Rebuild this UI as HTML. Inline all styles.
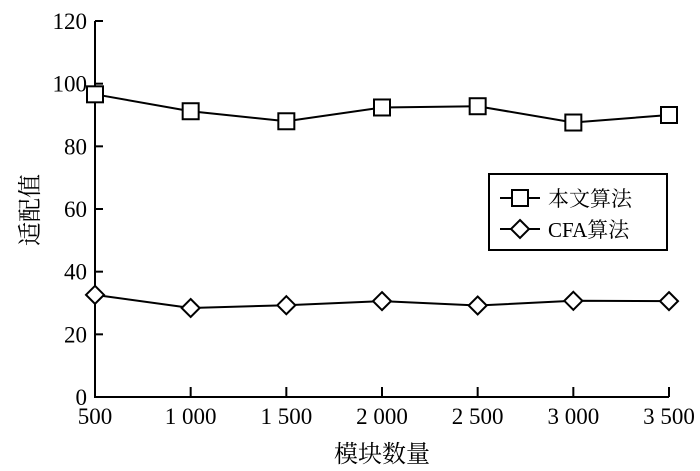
<!DOCTYPE html>
<html><head><meta charset="utf-8"><style>
body{margin:0;background:#fff}
svg{display:block}
text{font-family:"Liberation Serif","Noto Serif CJK SC","Noto Sans CJK SC",serif;fill:#000}
</style></head><body>
<svg id="chart" width="700" height="471" viewBox="0 0 700 471" xmlns="http://www.w3.org/2000/svg">
<g id="axes"></g><g id="series"></g>
<g>
<rect x="489" y="174" width="178" height="76" fill="#fff" stroke="#000" stroke-width="2"/>
<g>
<line x1="500" y1="198" x2="540" y2="198" stroke="#000" stroke-width="2"/>
<rect x="512" y="190" width="16" height="16" fill="#fff" stroke="#000" stroke-width="2"/>
<text x="548" y="206" font-size="21">本文算法</text></g>
<g>
<line x1="500" y1="229" x2="540" y2="229" stroke="#000" stroke-width="2"/>
<polygon points="520,220 529,229 520,238 511,229" fill="#fff" stroke="#000" stroke-width="2"/>
<text x="548" y="237" font-size="21">CFA算法</text></g>
</g>
<text transform="translate(38,210) rotate(-90)" text-anchor="middle" font-size="24">适配值</text>
<text x="382" y="462" text-anchor="middle" font-size="24">模块数量</text>
</svg>
<script>
const categories=[500,1000,1500,2000,2500,3000,3500];
const xTickLabels=["500","1 000","1 500","2 000","2 500","3 000","3 500"];
const yTicks=[0,20,40,60,80,100,120];
const oursValues=[96.6,91.2,88.0,92.4,92.8,87.6,90.0];
const cfaValues=[32.6,28.4,29.3,30.6,29.2,30.7,30.6];
const NS="http://www.w3.org/2000/svg";
const X0=95,X1=669,Y0=397,Y1=21;
function xs(v){return X0+(v-500)/3000*(X1-X0);}
function ys(v){return Y0-v/120*(Y0-Y1);}
function mk(tag,a,parent){const e=document.createElementNS(NS,tag);for(const k in a)e.setAttribute(k,a[k]);parent.appendChild(e);return e;}
const ax=document.getElementById('axes'),se=document.getElementById('series');
let l=mk('line',{x1:X0,y1:Y0,x2:X1,y2:Y0,stroke:'#000','stroke-width':2},ax);


l=mk('line',{x1:X0,y1:Y0+1,x2:X0,y2:Y1,stroke:'#000','stroke-width':2},ax);


yTicks.forEach(v=>{const y=ys(v);
 let t=mk('line',{x1:X0,y1:y,x2:X0+8,y2:y,stroke:'#000','stroke-width':2},ax);
 
 
 let tx=mk('text',{x:X0-8,y:y+8,'text-anchor':'end','font-size':23},ax);tx.textContent=v;
 
 
});
categories.forEach((c,i)=>{const x=xs(c);
 let t=mk('line',{x1:x,y1:Y0,x2:x,y2:Y0-10,stroke:'#000','stroke-width':2},ax);
 
 
 let tx=mk('text',{x:x,y:Y0+27,'text-anchor':'middle','font-size':23},ax);tx.textContent=xTickLabels[i];
 
 
});
function series(vals,name,shape){
 const pts=vals.map((v,i)=>xs(categories[i])+','+ys(v)).join(' ');
 const pl=mk('polyline',{points:pts,fill:'none',stroke:'#000','stroke-width':2},se);
 
 
 vals.forEach((v,i)=>{const x=xs(categories[i]),y=ys(v);let m;
  if(shape==='sq')m=mk('rect',{x:x-8,y:y-8,width:16,height:16,fill:'#fff',stroke:'#000','stroke-width':2},se);
  else m=mk('polygon',{points:`${x},${y-9} ${x+9},${y} ${x},${y+9} ${x-9},${y}`,fill:'#fff',stroke:'#000','stroke-width':2},se);
  
  
 });
}
series(oursValues,'ours','sq');
series(cfaValues,'cfa','dia');
</script>
</body></html>
